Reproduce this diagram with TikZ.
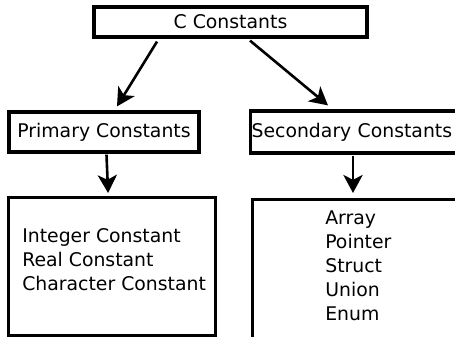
\documentclass[tikz,border=0pt]{standalone}
\usepackage{fontspec}
\setmainfont{DejaVu Sans}
\usetikzlibrary{positioning, arrows.meta, calc}

\begin{document}
\begin{tikzpicture}[
	x=0.25mm, y=-0.25mm,
	>={Stealth[length=4.5mm, width=4.8mm, inset=1.2mm]},
	titlebox/.style={
		draw=black, line width=0.8mm, inner sep=0pt,
		font=\fontsize{13.4}{17}\selectfont
	},
	itembox/.style={draw=black, line width=0.8mm, inner sep=0pt},
	itemtext/.style={align=left, inner sep=0pt, font=\fontsize{13.4}{17.07}\selectfont},
	link/.style={->, line width=0.65mm}
	]
	\useasboundingbox (0,0) rectangle (455,337);
	
	% 1. ROOT (Top)
	\node[titlebox, minimum width=68.25mm, minimum height=7.5mm] (cconst) at (230.5,22) {C Constants\hspace{5mm}};
	
	% 2. PRIMARY BRANCH (Left)
	\node[titlebox, minimum width=47.5mm, minimum height=10mm] (prim) at (104,132) {Primary Constants};
	\draw[link] ($(cconst.south)+(-73.5,3)$) -- ($(prim.north)+(13,-4)$);
	
	\node[itembox, anchor=north west, minimum width=51.75mm, minimum height=34.5mm] (primbox) at (7,196) {};
	\node[itemtext, anchor=base west] (primitems) at (22,290) {Integer Constant\\Real Constant\\Character Constant};
	\draw[link] ($(prim.south)+(2.5,1)$) -- ($(primbox.north)+(-4,-3)$);
	
	% 3. SECONDARY BRANCH (Right)
	\node[titlebox, anchor=west, text width=52mm, align=left, inner xsep=0.25mm, minimum height=10.5mm] (sec) at (249,132) {Secondary Constants};
	\draw[link] ($(cconst.south)+(19.5,2)$) -- ($(sec.north west)+(79,-4)$);
	
	\node[itembox, anchor=north west, minimum width=60mm, minimum height=40mm] (secbox) at (251,198) {};
	\node[itemtext, anchor=base west] (secitems) at (325,320) {Array\\Pointer\\Struct\\Union\\Enum};
	\draw[link] ($(sec.south west)+(104,1)$) -- ($(secbox.north west)+(102,-5)$);
\end{tikzpicture}
\end{document}
